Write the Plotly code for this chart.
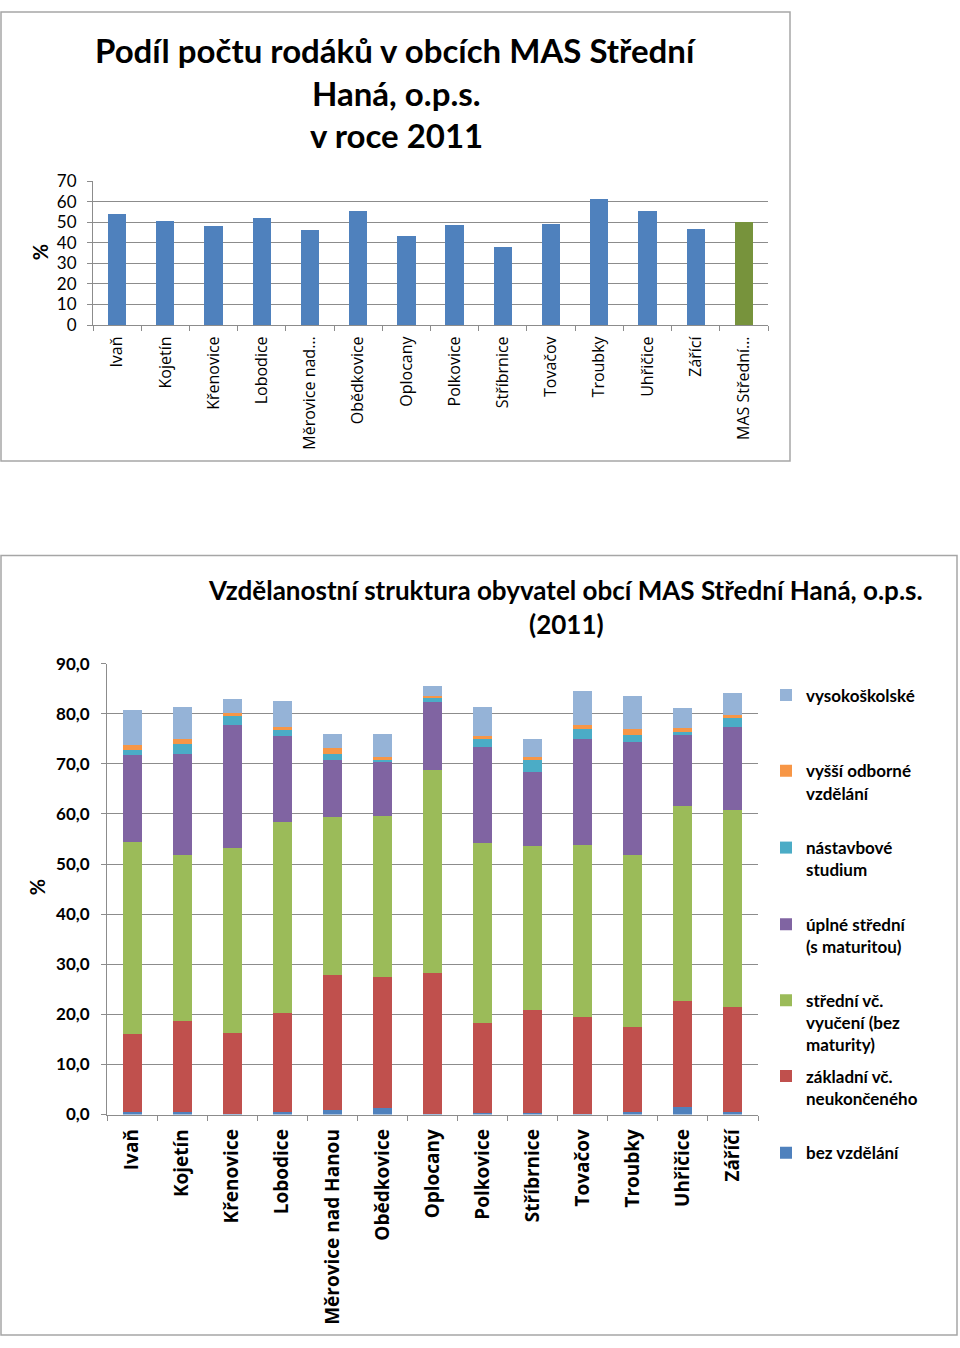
import plotly.graph_objects as go

W, H = 960, 1348

# ---------- data: chart 1 ----------
top_categories = ["Ivaň", "Kojetín", "Křenovice", "Lobodice", "Měrovice nad…", "Obědkovice",
                  "Oplocany", "Polkovice", "Stříbrnice", "Tovačov", "Troubky", "Uhřičice",
                  "Zářící", "MAS Střední…"]
rodaci = [54.2, 50.8, 48.2, 52.2, 46.2, 55.4, 43.3, 48.7, 37.8, 49.0, 61.4, 55.4, 47.0, 50.0]
top_colors = ["#4F81BD"] * 13 + ["#77933C"]
top_yticks = [0, 10, 20, 30, 40, 50, 60, 70]

# ---------- data: chart 2 ----------
edu_categories = ["Ivaň", "Kojetín", "Křenovice", "Lobodice", "Měrovice nad Hanou", "Obědkovice",
                  "Oplocany", "Polkovice", "Stříbrnice", "Tovačov", "Troubky", "Uhřičice", "Záříčí"]
bez_vzdelani = [0.5, 0.5, 0.1, 0.5, 1.0, 1.4, 0.2, 0.3, 0.3, 0.1, 0.5, 1.5, 0.5]
zakladni = [15.6, 18.2, 16.2, 19.7, 26.9, 26.1, 28.0, 18.0, 20.5, 19.4, 16.9, 21.2, 21.0]
stredni_vyuceni = [38.3, 33.1, 37.0, 38.2, 31.5, 32.1, 40.6, 36.0, 32.8, 34.4, 34.4, 38.8, 39.3]
uplne_stredni = [17.4, 20.2, 24.5, 17.2, 11.4, 10.8, 13.5, 19.1, 14.7, 21.0, 22.6, 14.2, 16.6]
nastavbove = [0.9, 1.9, 1.7, 1.1, 1.2, 0.4, 1.1, 1.6, 2.5, 2.0, 1.3, 0.7, 1.7]
vyssi_odborne = [1.1, 1.0, 0.6, 0.6, 1.1, 0.5, 0.1, 0.6, 0.5, 0.9, 1.2, 0.8, 0.6]
vysokoskolske = [7.0, 6.4, 2.9, 5.2, 2.8, 4.7, 2.0, 5.7, 3.7, 6.7, 6.7, 3.9, 4.5]

series = [
    ("bez vzdělání", bez_vzdelani, "#4F81BD"),
    ("základní vč.<br>neukončeného", zakladni, "#C0504D"),
    ("střední vč.<br>vyučení (bez<br>maturity)", stredni_vyuceni, "#9BBB59"),
    ("úplné střední<br>(s maturitou)", uplne_stredni, "#8064A2"),
    ("nástavbové<br>studium", nastavbove, "#4BACC6"),
    ("vyšší odborné<br>vzdělání", vyssi_odborne, "#F79646"),
    ("vysokoškolské", vysokoskolske, "#95B3D7"),
]
edu_yticks = [0, 10, 20, 30, 40, 50, 60, 70, 80, 90]


def px(x):
    return x / W


def py(y):
    return 1 - y / H


CAL = "Lato, 'Liberation Sans', sans-serif"
SEG = "'Open Sans', 'Noto Sans', sans-serif"
GRID = "#8C8C8C"

fig = go.Figure()

fig.add_trace(go.Bar(x=top_categories, y=rodaci, marker=dict(color=top_colors, line=dict(width=0)),
                     xaxis="x", yaxis="y", showlegend=False))

for i, (name, vals, col) in enumerate(series):
    fig.add_trace(go.Bar(x=edu_categories, y=vals, name=name,
                         marker=dict(color=col, line=dict(width=0)),
                         xaxis="x2", yaxis="y2", legend="legend" if i == 0 else f"legend{i+1}"))

fig.update_layout(
    width=W, height=H,
    margin=dict(l=0, r=0, t=0, b=0),
    paper_bgcolor="white", plot_bgcolor="white",
    barmode="stack",
    bargap=0.62,
    separators=", ",
    font=dict(family=CAL, color="#000000"),
    xaxis=dict(domain=[px(93), px(768)], anchor="y", type="category",
               showline=True, linecolor=GRID, linewidth=1,
               ticks="outside", tickson="boundaries", ticklen=5, tickcolor=GRID,
               ticklabelstandoff=4,
               tickangle=-90, tickfont=dict(family=SEG, size=16, color="#000"),
               showgrid=False),
    yaxis=dict(domain=[py(319), py(173)], anchor="x", range=[0, 70], tickvals=top_yticks,
               showgrid=True, gridcolor=GRID, gridwidth=1,
               showline=True, linecolor=GRID, ticks="outside", ticklen=5, tickcolor=GRID,
               ticklabelstandoff=7,
               tickfont=dict(family=CAL, size=17, color="#000"), zeroline=False),
    xaxis2=dict(domain=[px(107), px(758)], anchor="y2", type="category",
                showline=True, linecolor=GRID, linewidth=1,
                ticks="outside", tickson="boundaries", ticklen=5, tickcolor=GRID,
                ticklabelstandoff=6,
                tickangle=-90, tickfont=dict(family=SEG, size=19, color="#000", weight="bold"),
                showgrid=False),
    yaxis2=dict(domain=[py(1121), py(663)], anchor="x2", range=[0, 90], tickvals=edu_yticks,
                tickformat=".1f",
                showgrid=True, gridcolor=GRID, gridwidth=1,
                showline=True, linecolor=GRID, ticks="outside", ticklen=5, tickcolor=GRID,
                ticklabelstandoff=8,
                tickfont=dict(family=CAL, size=17, color="#000", weight="bold"), zeroline=False),
)

# legends (one per series, evenly spaced like the reference)
legend_common = dict(xanchor="left", yanchor="top", bgcolor="rgba(0,0,0,0)",
                     font=dict(family=CAL, size=17, color="#000", weight="bold"),
                     valign="top", tracegroupgap=0, itemwidth=30)
order_px = [1159, 1081, 1004, 927, 849, 771, 694]
for i in range(7):
    key = "legend" if i == 0 else f"legend{i+1}"
    fig.update_layout({key: dict(x=px(766), y=py(order_px[i] - 17), **legend_common)})

# titles
title_font = dict(family=CAL, size=33, color="#000", weight="bold")
for txt, yc in [("Podíl počtu rodáků v obcích MAS Střední", 40), ("Haná, o.p.s.", 83), ("v roce 2011", 126)]:
    fig.add_annotation(text=txt, x=px(396), y=py(yc), xref="paper", yref="paper",
                       xanchor="center", yanchor="middle", showarrow=False, font=title_font)
t2_font = dict(family=CAL, size=26, color="#000", weight="bold")
fig.add_annotation(text="Vzdělanostní struktura obyvatel obcí MAS Střední Haná, o.p.s.", x=px(565), y=py(588),
                   xref="paper", yref="paper", xanchor="center", yanchor="middle", showarrow=False, font=t2_font)
fig.add_annotation(text="(2011)", x=px(566), y=py(623),
                   xref="paper", yref="paper", xanchor="center", yanchor="middle", showarrow=False, font=t2_font)

# y axis titles
for xc, yc in [(40, 245), (37, 890)]:
    fig.add_annotation(text="%", x=px(xc), y=py(yc), xref="paper", yref="paper", textangle=-90,
                       xanchor="center", yanchor="middle", showarrow=False,
                       font=dict(family=CAL, size=20, color="#000", weight="bold"))

# chart frames
fig.add_shape(type="rect", xref="paper", yref="paper", x0=px(1), x1=px(790), y0=py(457), y1=py(1),
              line=dict(color="#A6A6A6", width=1.5))
fig.add_shape(type="rect", xref="paper", yref="paper", x0=px(1), x1=px(957), y0=py(1345), y1=py(553),
              line=dict(color="#A6A6A6", width=1.5))

fig.write_html("out.html", post_script="document.body.style.margin='0';",
               config={"displayModeBar": False})
